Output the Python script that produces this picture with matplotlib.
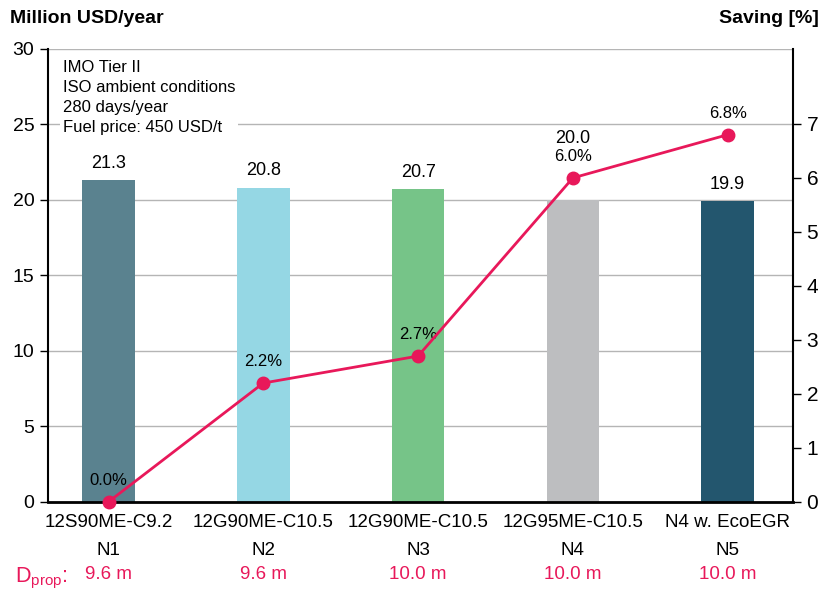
import matplotlib.pyplot as plt
import numpy as np

plt.rcParams['font.family'] = ['Liberation Sans', 'DejaVu Sans']
plt.rcParams['mathtext.fontset'] = 'custom'
plt.rcParams['mathtext.rm'] = 'Liberation Sans'

# data
engines = ['12S90ME-C9.2', '12G90ME-C10.5', '12G90ME-C10.5', '12G95ME-C10.5', 'N4 w. EcoEGR']
names = ['N1', 'N2', 'N3', 'N4', 'N5']
cost = [21.3, 20.8, 20.7, 20.0, 19.9]
saving = [0.0, 2.2, 2.7, 6.0, 6.8]
dprop = ['9.6 m', '9.6 m', '10.0 m', '10.0 m', '10.0 m']
bar_colors = ['#5a828f', '#95d7e4', '#76c488', '#bdbec0', '#23566e']
RED = '#e8185a'

fig = plt.figure(figsize=(8.3, 5.89), dpi=100)
ax = fig.add_axes([0.058, 0.148, 0.897, 0.769])
x = np.arange(len(cost))

ax.bar(x, cost, width=0.34, color=bar_colors, zorder=2)
ax.set_xlim(-0.39, 4.42)
ax.set_ylim(0, 30)
ax.set_yticks(range(0, 31, 5))
ax.yaxis.grid(True, color='#b5b5b5', lw=1)
ax.set_axisbelow(True)
for s in ['top', 'right']:
    ax.spines[s].set_visible(False)
ax.spines['left'].set_linewidth(1.5)
ax.spines['bottom'].set_linewidth(2)
ax.tick_params(axis='y', labelsize=14, length=6, width=1, pad=4)
ax.set_xticks(x)
ax.set_xticklabels([e + '\n' + n for e, n in zip(engines, names)],
                   fontsize=13.5, linespacing=1.85)
ax.tick_params(axis='x', length=0, pad=9)

# bar values (N4 label lifted above the line label)
for i, v in enumerate(cost):
    off = 6 if i != 3 else 38
    ax.annotate(f'{v:.1f}', (x[i], v), xytext=(0, off), textcoords='offset points',
                ha='center', va='bottom', fontsize=13)

# saving line on right axis
ax2 = ax.twinx()
ax2.set_ylim(0, 8.39)
ax2.set_yticks(range(0, 8))
ax2.plot(x, saving, color=RED, lw=2, marker='o', ms=9, zorder=5, clip_on=False)
for s in ['top', 'left', 'bottom']:
    ax2.spines[s].set_visible(False)
ax2.spines['right'].set_linewidth(1.5)
ax2.tick_params(axis='y', labelsize=15, length=6, width=1, pad=4)
for i, v in enumerate(saving):
    ax2.annotate(f'{v:.1f}%', (x[i], v), xytext=(0, 10), textcoords='offset points',
                 ha='center', va='bottom', fontsize=12)

# info box
ax.text(0.02, 0.975, 'IMO Tier II\nISO ambient conditions\n280 days/year\nFuel price: 450 USD/t',
        transform=ax.transAxes, ha='left', va='top', fontsize=12, linespacing=1.42,
        bbox=dict(facecolor='white', edgecolor='none', pad=2), zorder=3)

# axis titles
fig.text(0.012, 0.968, 'Million USD/year', fontsize=14, fontweight='bold', ha='left', va='center')
fig.text(0.986, 0.968, 'Saving [%]', fontsize=14, fontweight='bold', ha='right', va='center')

# propeller diameter row
fig.text(0.018, 0.012, r'D$_{\mathrm{prop}}$:', color=RED, fontsize=15.5, ha='left', va='baseline')
for i, d in enumerate(dprop):
    ax.annotate(d, (x[i], 0), xycoords=('data', 'figure fraction'), xytext=(0, 7.5),
                textcoords='offset points', ha='center', va='baseline', color=RED, fontsize=13.5)

fig.savefig('out.png', dpi=100)
